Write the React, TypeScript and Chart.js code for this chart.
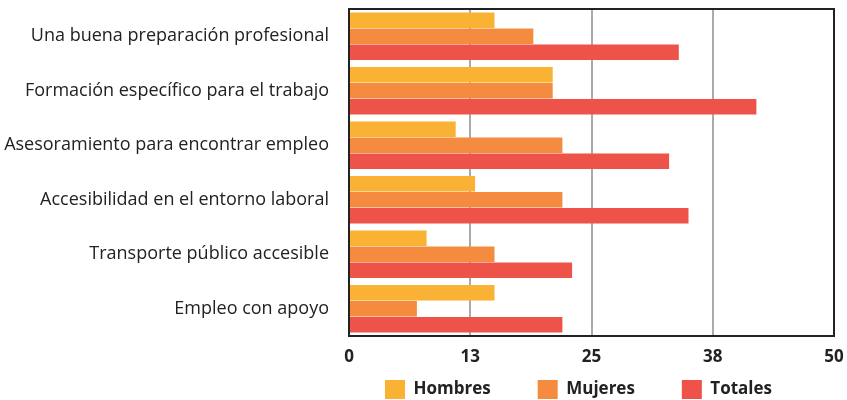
import React, { useEffect, useRef } from "react";
import { Chart, registerables } from "chart.js";

Chart.register(...registerables);

const categories = [
  "Una buena preparación profesional",
  "Formación específico para el trabajo",
  "Asesoramiento para encontrar empleo",
  "Accesibilidad en el entorno laboral",
  "Transporte público accesible",
  "Empleo con apoyo",
];
const seriesNames = ["Hombres", "Mujeres", "Totales"];
const hombres = [15, 21, 11, 13, 8, 15];
const mujeres = [19, 21, 22, 22, 15, 7];
const totales = [34, 42, 33, 35, 23, 22];
const colors = ["#F9B233", "#F58B3F", "#EE5349"];
const tickLabels = ["0", "13", "25", "38", "50"];

const FONT = "'Open Sans', 'DejaVu Sans', sans-serif";
const LEGEND_PAD = 47;

const boxPlugin = {
  id: "boxPlugin",
  beforeInit(chart: any) {
    const legend = chart.legend;
    if (!legend) return;
    const origFit = legend.fit;
    legend.fit = function () {
      origFit.call(this);
      this.height = 34;
    };
    const origDraw = legend.draw;
    legend.draw = function () {
      const t = this.top, l = this.left, r = this.right, b = this.bottom;
      this.top = 380 - LEGEND_PAD;
      this.bottom = 400;
      this.left = 385 - LEGEND_PAD;
      this.right = 847;
      origDraw.call(this);
      this.top = t; this.left = l; this.right = r; this.bottom = b;
    };
  },
  afterDraw(chart: any) {
    const { ctx, chartArea } = chart;
    ctx.save();
    ctx.strokeStyle = "#222";
    ctx.lineWidth = 2;
    ctx.beginPath();
    ctx.moveTo(chartArea.left, chartArea.top);
    ctx.lineTo(chartArea.right, chartArea.top);
    ctx.lineTo(chartArea.right, chartArea.bottom);
    ctx.stroke();
    ctx.restore();
  },
};

export default function App() {
  const ref = useRef<HTMLCanvasElement>(null);
  useEffect(() => {
    if (!ref.current) return;
    const chart = new Chart(ref.current, {
      type: "bar",
      data: {
        labels: categories,
        datasets: [hombres, mujeres, totales].map((d, i) => ({
          label: seriesNames[i],
          data: d,
          backgroundColor: colors[i],
          borderWidth: 0,
          barPercentage: 0.96,
          categoryPercentage: 0.88,
        })),
      },
      options: {
        indexAxis: "y",
        responsive: false,
        animation: false,
        layout: { padding: { top: 9, right: 13, left: 0, bottom: 0 } },
        plugins: {
          tooltip: { enabled: false },
          legend: {
            position: "bottom",
            align: "start",
            labels: {
              boxWidth: 20,
              boxHeight: 19,
              padding: LEGEND_PAD,
              color: "#222",
              font: { family: FONT, size: 17, weight: "bold" },
            },
          },
        },
        scales: {
          x: {
            min: 0,
            max: 50,
            ticks: {
              stepSize: 12.5,
              color: "#222",
              padding: 11,
              font: { family: FONT, size: 17, weight: "bold" },
              callback: (_v: any, i: number) => tickLabels[i],
            },
            grid: { color: "#aaa", lineWidth: 2, drawTicks: false },
            border: { color: "#222", width: 2 },
            afterFit: (s: any) => {
              s.height = 30;
              s.paddingLeft = 0;
              s.paddingRight = 0;
            },
          },
          y: {
            ticks: {
              color: "#222",
              padding: 20,
              font: { family: FONT, size: 18, weight: "500" },
            },
            grid: { display: false, drawTicks: false },
            border: { color: "#222", width: 2 },
            afterFit: (s: any) => {
              s.width = 349;
              s.paddingTop = 0;
              s.paddingBottom = 0;
            },
          },
        },
      },
      plugins: [boxPlugin],
    });
    return () => chart.destroy();
  }, []);
  return (
    <div style={{ position: "absolute", left: 0, top: 0, width: 847, height: 400, background: "#fff" }}>
      <canvas ref={ref} width={847} height={400} />
    </div>
  );
}
